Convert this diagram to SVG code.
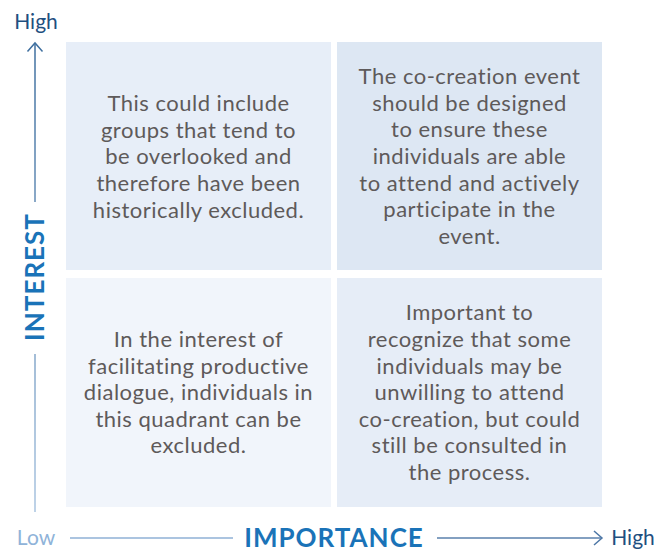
<svg xmlns="http://www.w3.org/2000/svg" width="657" height="552" viewBox="0 0 657 552">
<defs>
<style>
.body{font-family:Lato,"Open Sans","Liberation Sans",sans-serif;font-size:22px;fill:#5e5a5a;text-anchor:middle;letter-spacing:0.5px}
.axis{font-family:Lato,"Open Sans","Liberation Sans",sans-serif;font-weight:bold;font-size:26px;fill:#1a73b8;text-anchor:middle;letter-spacing:1px}
.tick{font-family:Lato,"Open Sans","Liberation Sans",sans-serif;font-size:21px;text-anchor:middle}
</style>
<linearGradient id="gv" gradientUnits="userSpaceOnUse" x1="0" y1="43" x2="0" y2="512">
<stop offset="0" stop-color="#3f6f9f"/>
<stop offset="1" stop-color="#a9c4e0"/>
</linearGradient>
</defs>
<rect width="657" height="552" fill="#ffffff"/>
<g id="q-top-left">
<rect x="66" y="42" width="265" height="228" fill="#e7eef8"/>
<text class="body"><tspan x="198.5" y="111">This could include</tspan><tspan x="198.5" y="138">groups that tend to</tspan><tspan x="198.5" y="164">be overlooked and</tspan><tspan x="198.5" y="191">therefore have been</tspan><tspan x="198.5" y="218">historically excluded.</tspan></text>
</g>
<g id="q-top-right">
<rect x="337" y="42" width="265" height="228" fill="#dde7f3"/>
<text class="body"><tspan x="469.5" y="84">The co-creation event</tspan><tspan x="469.5" y="111">should be designed</tspan><tspan x="469.5" y="137">to ensure these</tspan><tspan x="469.5" y="164">individuals are able</tspan><tspan x="469.5" y="191">to attend and actively</tspan><tspan x="469.5" y="217">participate in the</tspan><tspan x="469.5" y="244">event.</tspan></text>
</g>
<g id="q-bottom-left">
<rect x="66" y="278" width="265" height="229" fill="#f1f5fb"/>
<text class="body"><tspan x="198.5" y="347">In the interest of</tspan><tspan x="198.5" y="374">facilitating productive</tspan><tspan x="198.5" y="400">dialogue, individuals in</tspan><tspan x="198.5" y="427">this quadrant can be</tspan><tspan x="198.5" y="453">excluded.</tspan></text>
</g>
<g id="q-bottom-right">
<rect x="337" y="278" width="265" height="229" fill="#e6edf7"/>
<text class="body"><tspan x="469.5" y="320">Important to</tspan><tspan x="469.5" y="347">recognize that some</tspan><tspan x="469.5" y="374">individuals may be</tspan><tspan x="469.5" y="400">unwilling to attend</tspan><tspan x="469.5" y="427">co-creation, but could</tspan><tspan x="469.5" y="453">still be consulted in</tspan><tspan x="469.5" y="480">the process.</tspan></text>
</g>
<g id="connectors" fill="none" stroke-width="1.5">
<path d="M35 43 V202 M35 354 V512" stroke="url(#gv)"/>
<path d="M27.5 51.5 L35 43 L42.5 51.5" stroke="#3f6f9f"/>
<path d="M70 538 H233" stroke="#8fb0d6"/>
<path d="M437 538 H602" stroke="#5a81ad"/>
<path d="M594 531 L602 538 L594 545" stroke="#4d77a6"/>
</g>
<g id="labels">
<text class="tick" x="36" y="29" fill="#1f4f80">High</text>
<text class="tick" x="36" y="545" fill="#8fb3d9">Low</text>
<text class="tick" x="633" y="545" fill="#1f4f80">High</text>
<text class="axis" transform="translate(44 277) rotate(-90)">INTEREST</text>
<text class="axis" x="334" y="547">IMPORTANCE</text>
</g>
</svg>
